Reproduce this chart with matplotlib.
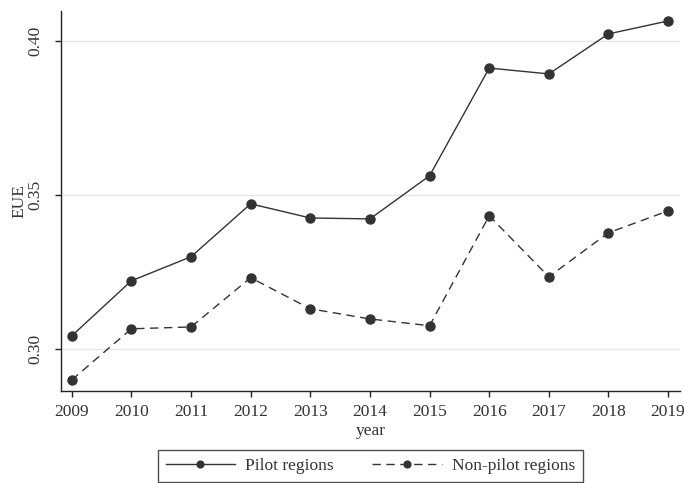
import matplotlib
matplotlib.use("Agg")
import matplotlib.pyplot as plt

years = [2009, 2010, 2011, 2012, 2013, 2014, 2015, 2016, 2017, 2018, 2019]
pilot = [0.3042, 0.3221, 0.3299, 0.3471, 0.3425, 0.3422, 0.3562, 0.3912, 0.3893, 0.4023, 0.4065]
non_pilot = [0.2899, 0.3065, 0.3071, 0.3231, 0.3130, 0.3097, 0.3075, 0.3432, 0.3234, 0.3377, 0.3448]
y_ticks = [0.30, 0.35, 0.40]

plt.rcParams["font.family"] = ["Liberation Serif", "DejaVu Serif"]
plt.rcParams["font.size"] = 12.5

fig = plt.figure(figsize=(6.84, 4.83), dpi=100)
ax = fig.add_axes([0.0892, 0.1905, 0.905, 0.7865])

col = "#333333"
ax.plot(years, pilot, color=col, lw=1.0, marker="o", ms=6.5, mfc=col, mec=col,
        label="Pilot regions")
ax.plot(years, non_pilot, color=col, lw=1.0, marker="o", ms=6.5, mfc=col, mec=col,
        ls=(0, (6, 4)), label="Non-pilot regions")

ax.set_xlim(2008.82, 2019.2)
ax.set_ylim(0.2863, 0.4097)
ax.set_xticks(years)
ax.set_yticks(y_ticks)
ax.set_yticklabels([f"{v:.2f}" for v in y_ticks], rotation=90, va="center")
ax.grid(axis="y", color="#e6e6e6", lw=1.0)
ax.set_axisbelow(True)

for s in ["top", "right"]:
    ax.spines[s].set_visible(False)
for s in ["left", "bottom"]:
    ax.spines[s].set_linewidth(1.0)
    ax.spines[s].set_color("#222222")
ax.tick_params(direction="out", length=4.5, width=1.0, color="#222222", labelcolor="#333333")
ax.tick_params(axis="x", pad=5)
ax.tick_params(axis="y", pad=8)

ax.set_xlabel("year", labelpad=2, color="#333333")
ax.set_ylabel("EUE", labelpad=0.5, color="#333333")

leg = fig.legend(loc="center", bbox_to_anchor=(0.5417, 0.035), ncol=2,
                 frameon=True, fancybox=False, edgecolor="#222222",
                 handlelength=4.0, handletextpad=0.6, columnspacing=2.2,
                 borderpad=0.45, markerscale=0.75)
leg.get_frame().set_linewidth(1.0)
for t in leg.get_texts():
    t.set_color("#333333")

fig.savefig("out.png", dpi=100)
